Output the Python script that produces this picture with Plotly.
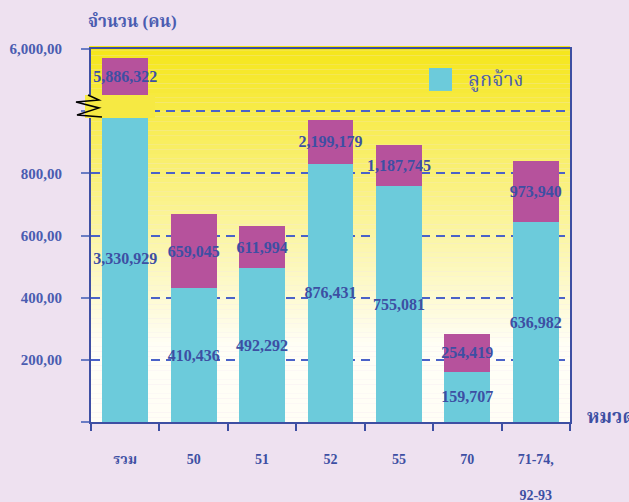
import plotly.graph_objects as go

# categories (หมวด) and values in axis units
categories = ["รวม", "50", "51", "52", "55", "70", "71-74,<br><br>92-93"]
employee_heights = [1049000, 431000, 495000, 831000, 758000, 161500, 642000]
other_heights = [122000, 237000, 134500, 141000, 134000, 121500, 199000]
employee_labels = ["3,330,929", "410,436", "492,292", "876,431", "755,081", "159,707", "636,982"]
total_labels = ["5,886,322", "659,045", "611,994", "2,199,179", "1,187,745", "254,419", "973,940"]

y_tickvals = [0, 200000, 400000, 600000, 800000, 1000000, 1200000]
y_ticktext = ["", "200,00", "400,00", "600,00", "800,00", "", "6,000,00"]

BLUE = "#3d4fa3"
CYAN = "#6ccbdb"
PINK = "#b6529c"
BG = "#eee1f0"
SERIF = "Liberation Serif, Noto Serif Thai, Noto Sans Thai, serif"

fig = go.Figure()
fig.add_trace(go.Bar(
    x=categories, y=employee_heights, name="ลูกจ้าง",
    marker=dict(color=CYAN, line=dict(width=0)),
    text=employee_labels, textposition="inside", insidetextanchor="middle",
    constraintext="none", textangle=0,
    textfont=dict(family=SERIF, size=16, color=BLUE, weight="bold"),
    width=0.67, showlegend=False,
))
fig.add_trace(go.Bar(
    x=categories, y=other_heights, name="รวม",
    marker=dict(color=PINK, line=dict(width=0)),
    text=total_labels, textposition="inside", insidetextanchor="middle",
    constraintext="none", textangle=0,
    textfont=dict(family=SERIF, size=16, color=BLUE, weight="bold"),
    width=0.67, showlegend=False,
))

# plot area background: yellow fading to cream
shapes = []
n = 80
top_rgb = (245, 230, 26)
bot_rgb = (255, 254, 246)
for i in range(n):
    f = i / (n - 1)
    g = min(1.0, f / 0.8)
    c = tuple(int(round(top_rgb[k] + (bot_rgb[k] - top_rgb[k]) * g)) for k in range(3))
    shapes.append(dict(type="rect", xref="paper", yref="paper",
                       x0=-0.004, x1=1.0, y0=1.008 - (i + 1) * 1.008 / n, y1=1.008 - i * 1.008 / n,
                       fillcolor="rgb(%d,%d,%d)" % c, line=dict(width=0), layer="below"))


def px_x(px):
    return (px - 91) / 479


def px_y(py):
    return (422.4 - py) / 373.4 * 1200000


# axis break patch and zigzag
shapes.append(dict(type="rect", xref="paper", yref="y", x0=px_x(85), x1=px_x(155),
                   y0=px_y(118), y1=px_y(95), fillcolor="#f6e943", line=dict(width=0), layer="above"))
zig = [(88, 95), (99, 100), (76, 102), (99, 108), (77, 115), (102, 117)]
path = ""
for j, (zx, zy) in enumerate(zig):
    path += ("M" if j == 0 else "L") + " %f %f " % (px_x(zx), px_y(zy))
shapes.append(dict(type="path", xref="paper", yref="y", path=path,
                   line=dict(color="black", width=1.5), layer="above"))

# legend square
shapes.append(dict(type="rect", xref="paper", yref="paper", x0=px_x(429), x1=px_x(452),
                   y0=0.8876, y1=0.949, fillcolor=CYAN, line=dict(width=0), layer="above"))

fig.update_layout(
    shapes=shapes,
    barmode="stack",
    width=629, height=502,
    margin=dict(l=91, r=59, t=49, b=80),
    paper_bgcolor=BG,
    plot_bgcolor="rgba(0,0,0,0)",
    font=dict(family=SERIF, color=BLUE),
    showlegend=False,
    annotations=[
        dict(text="จำนวน (คน)", xref="paper", yref="paper", x=px_x(86), y=1.075,
             xanchor="left", yanchor="middle", showarrow=False,
             font=dict(family=SERIF, size=17, color="#4a5cb0", weight="bold")),
        dict(text="ลูกจ้าง", xref="paper", yref="paper", x=px_x(466), y=0.917,
             xanchor="left", yanchor="middle", showarrow=False,
             font=dict(family=SERIF, size=20, color="#4a5cb0")),
        dict(text="หมวด", xref="paper", yref="paper", x=px_x(585), y=0.014,
             xanchor="left", yanchor="middle", showarrow=False,
             font=dict(family=SERIF, size=19, color=BLUE, weight="bold")),
    ],
)
fig.update_xaxes(
    automargin=False,
    showline=True, linecolor=BLUE, linewidth=2, mirror=True,
    ticks="outside", tickson="boundaries", ticklen=7, tickwidth=2, tickcolor=BLUE,
    tickfont=dict(family=SERIF, size=14, color=BLUE, weight="bold"),
    ticklabelstandoff=23, showgrid=False,
)
fig.update_yaxes(
    automargin=False,
    range=[0, 1200000],
    tickvals=y_tickvals, ticktext=y_ticktext,
    showline=True, linecolor=BLUE, linewidth=2, mirror=True,
    ticks="outside", ticklen=8, tickwidth=1.5, tickcolor="#6a7cc4",
    tickfont=dict(family=SERIF, size=15, color="#4a5cb0", weight="bold"),
    ticklabelstandoff=16,
    showgrid=True, gridcolor="#4a62c8", gridwidth=1.5, griddash="9px,6px",
    zeroline=False,
)

# the page body has a default 8px margin; drop it so the figure sits at the corner
fig.write_html("out.html", config={"displayModeBar": False},
               post_script="document.body.style.margin = '0';")
